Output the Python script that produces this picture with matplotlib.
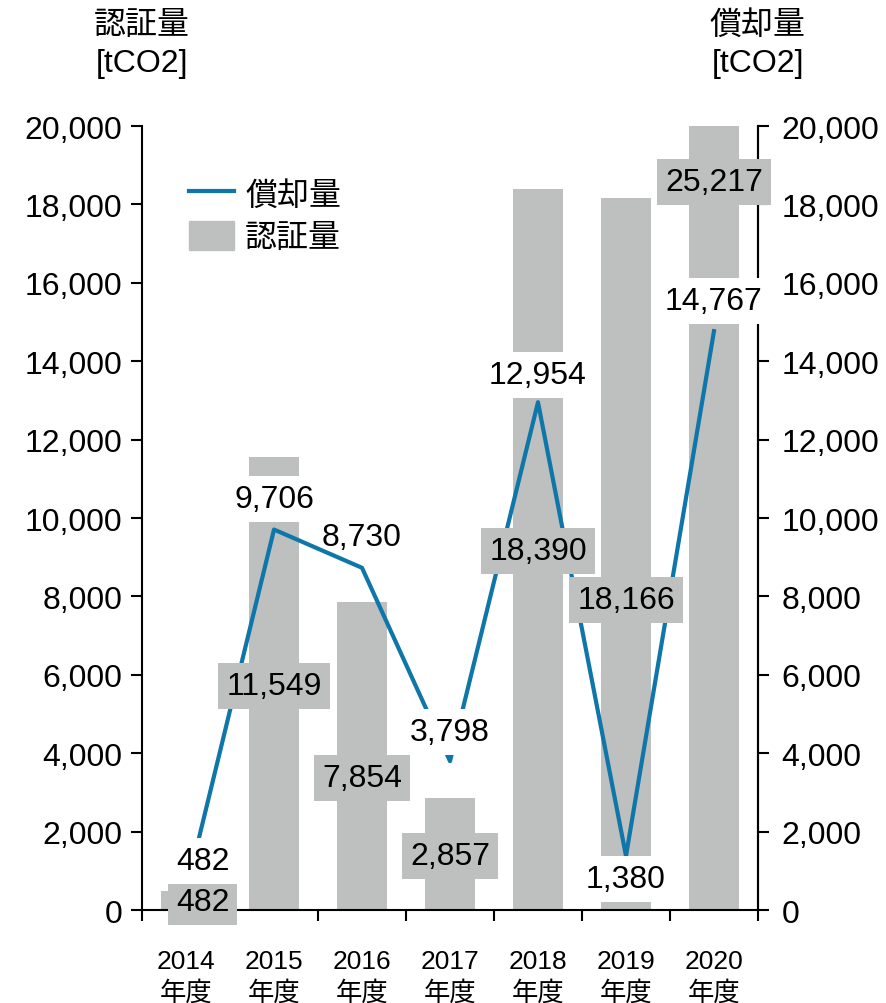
import matplotlib
matplotlib.use("Agg")
import matplotlib.pyplot as plt
from matplotlib.lines import Line2D
from matplotlib.patches import Patch

plt.rcParams["font.family"] = ["Liberation Sans", "Noto Sans CJK JP"]

# data
years = ["2014", "2015", "2016", "2017", "2018", "2019", "2020"]
certified = [482, 11549, 7854, 2857, 18390, 18166, 25217]   # 認証量 (bars)
retired = [482, 9706, 8730, 3798, 12954, 1380, 14767]       # 償却量 (line)
# label placement (data units), hand-adjusted like the original
label_dx = [0.19, 0, 0, 0, 0, 0, 0]
bar_label_y = [204, 5714, 3367, 1378, 9158, 7908, 18571]
line_label_y = [1250, 10485, 9515, 4541, 13648, 791, 15536]
line_label_bg = ["white", "white", "none", "white", "white", "white", "white"]
yticks = list(range(0, 20001, 2000))

GRAY = "#bebfbf"
BLUE = "#0e76a8"
FS = 23

fig = plt.figure(figsize=(8.86, 10.04), dpi=100)
ax = fig.add_axes([0.1603, 0.0926, 0.6952, 0.7809])
ax2 = ax.twinx()

x = list(range(len(years)))
ax.bar(x, certified, width=0.56, color=GRAY, zorder=1)
ax.plot(x, retired, color=BLUE, lw=3, zorder=2)

ax.set_xlim(-0.5, len(years) - 0.5)
for a in (ax, ax2):
    a.set_ylim(0, 20000)
    a.set_yticks(yticks)
    a.set_yticklabels([f"{v:,}" for v in yticks], fontsize=FS)
    a.spines["top"].set_visible(False)
    for s in a.spines.values():
        s.set_linewidth(1.5)
    a.tick_params(axis="y", direction="out", length=8, width=1.5, pad=6)
ax2.tick_params(axis="y", pad=9)
ax2.spines["left"].set_visible(False)
ax2.spines["bottom"].set_visible(False)

# x ticks at category boundaries, labels at centers
ax.set_xticks([i - 0.5 for i in range(len(years) + 1)])
ax.set_xticklabels([])
ax.set_xticks(x, minor=True)
ax.set_xticklabels([f"{y}\n年度" for y in years], minor=True, fontsize=19, linespacing=1.35)
ax.tick_params(axis="x", which="major", direction="out", length=8, width=1.5)
ax.tick_params(axis="x", which="minor", length=0, pad=28)

# data labels drawn on top of everything (they hide spines, as in the original)
for i in x:
    ax.text(i + label_dx[i], bar_label_y[i], f"{certified[i]:,}", ha="center", va="center",
            fontsize=FS, bbox=dict(boxstyle="square,pad=0.25", fc=GRAY, ec="none"),
            zorder=10, clip_on=False)
    ax.text(i + label_dx[i], line_label_y[i], f"{retired[i]:,}", ha="center", va="center",
            fontsize=FS, bbox=dict(boxstyle="square,pad=0.25", fc=line_label_bg[i], ec="none"),
            zorder=10, clip_on=False)
ax.set_zorder(ax2.get_zorder() + 1)
ax.patch.set_visible(False)

handles = [Line2D([], [], color=BLUE, lw=3), Patch(color=GRAY)]
ax.legend(handles, ["償却量", "認証量"], loc="upper left", bbox_to_anchor=(0.03, 0.97),
          frameon=False, fontsize=FS, handlelength=1.4, handleheight=1.05, handletextpad=0.35,
          labelspacing=0.3)

fig.text(0.1603, 0.955, "認証量\n[tCO2]", ha="center", va="center", fontsize=FS, linespacing=1.35)
fig.text(0.8555, 0.955, "償却量\n[tCO2]", ha="center", va="center", fontsize=FS, linespacing=1.35)

fig.savefig("out.png", dpi=100)
